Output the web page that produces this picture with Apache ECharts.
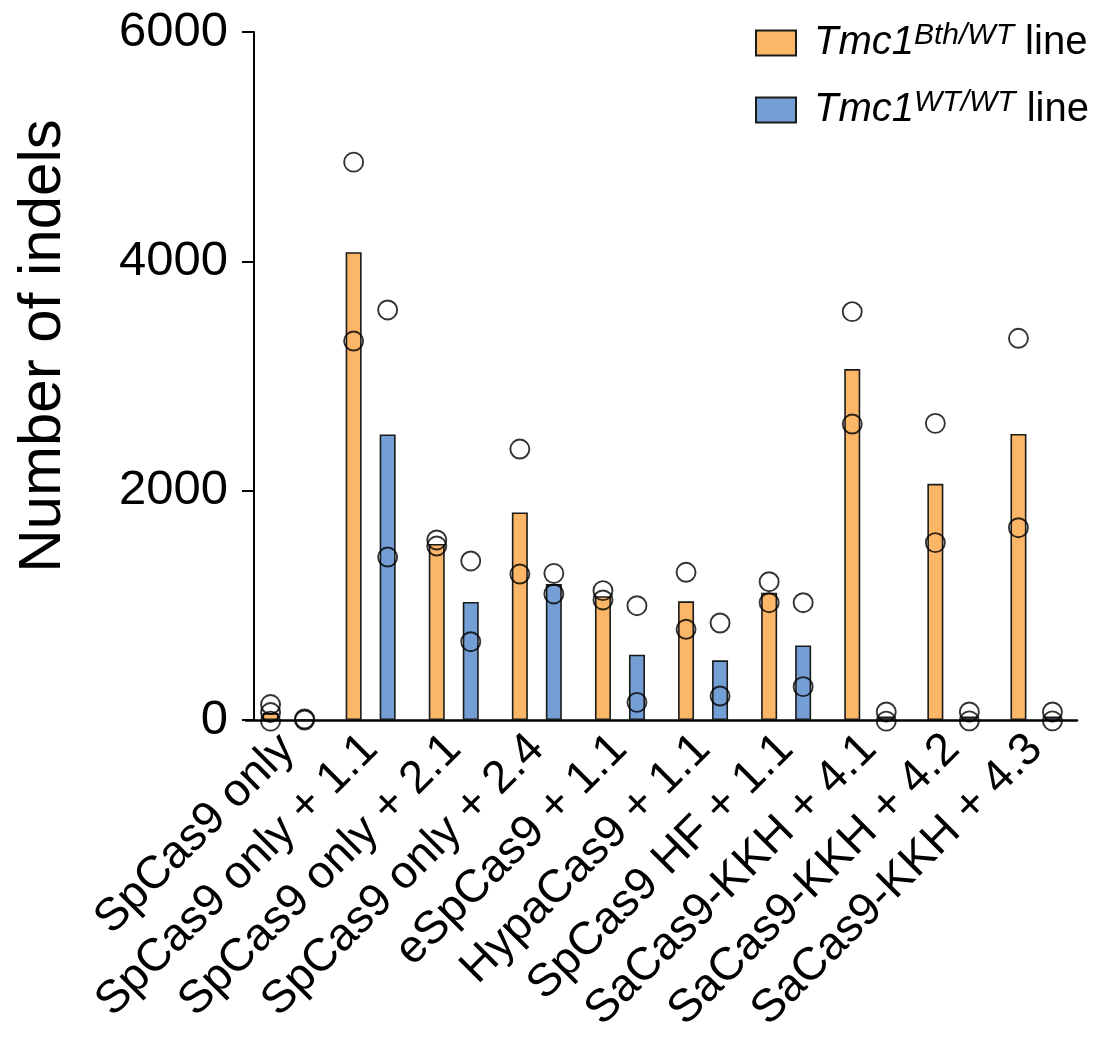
<!DOCTYPE html>
<html>
<head>
<meta charset="utf-8">
<script src="https://cdn.jsdelivr.net/npm/echarts@6/dist/echarts.min.js"></script>
<style>
html,body{margin:0;padding:0;background:#fff;}
#c{width:1103px;height:1053px;}
</style>
</head>
<body>
<div id="c"></div>
<script>
const categories = ['SpCas9 only','SpCas9 only + 1.1','SpCas9 only + 2.1','SpCas9 only + 2.4','eSpCas9 + 1.1','HypaCas9 + 1.1','SpCas9 HF + 1.1','SaCas9-KKH + 4.1','SaCas9-KKH + 4.2','SaCas9-KKH + 4.3'];
const bthMean = [60, 4080, 1535, 1810, 1080, 1035, 1110, 3060, 2060, 2495];
const wtMean = [5, 2490, 1030, 1185, 570, 520, 650, 30, 30, 30];
const bthDots = [[135, 65, -10],[4865, 3305],[1570, 1517],[2363, 1273],[1128, 1047],[1288, 791],[1206, 1023],[3561, 2581],[2587, 1547],[3329, 1677]];
const wtDots = [[10, 0],[3576, 1421],[1387, 683],[1279, 1099],[997, 154],[846, 209],[1023, 291],[70, -10],[70, -8],[70, -8]];
const yTicks = [0, 2000, 4000, 6000];

const FONT = "'Liberation Sans', Arial, sans-serif";
const ORANGE = '#FBB667';
const BLUE = '#739FD4';

function toPoints(dots){
  const pts = [];
  dots.forEach((arr, i) => arr.forEach(v => pts.push([i, v])));
  return pts;
}

const chart = echarts.init(document.getElementById('c'), null, {renderer:'canvas'});
const legendFmt = name => name === 'bth'
  ? '{i|Tmc1}{s|Bth/WT}{n| line}'
  : '{i|Tmc1}{s|WT/WT}{n| line}';

chart.setOption({
  animation: false,
  backgroundColor: '#fff',
  grid: {left: 246, right: 26, top: 32, bottom: 333, containLabel: false},
  legend: {
    orient: 'vertical', left: 755, top: 21, padding: 0, itemGap: 25,
    itemWidth: 40, itemHeight: 25, icon: 'rect',
    data: ['bth', 'wt'],
    formatter: legendFmt,
    textStyle: {
      color: '#000', fontFamily: FONT,
      rich: {
        i: {fontSize: 40, fontStyle: 'italic', fontFamily: FONT, color: '#000', lineHeight: 44, padding: [0,0,0,13]},
        s: {fontSize: 30, fontStyle: 'italic', fontFamily: FONT, color: '#000', lineHeight: 28, verticalAlign: 'top'},
        n: {fontSize: 40, fontFamily: FONT, color: '#000', lineHeight: 44}
      }
    }
  },
  xAxis: {
    type: 'category', data: categories,
    axisLine: {lineStyle: {color: '#000', width: 2.5}},
    axisTick: {alignWithLabel: true, length: 10, lineStyle: {color: '#000', width: 2}},
    axisLabel: {interval: 0, rotate: 45, fontSize: 46, color: '#000', fontFamily: FONT, margin: 22}
  },
  yAxis: {
    type: 'value', min: 0, max: 6000, interval: 2000, offset: -8,
    axisLine: {show: true, lineStyle: {color: '#000', width: 2}},
    axisTick: {show: true, length: 12, lineStyle: {color: '#000', width: 2}},
    splitLine: {show: false},
    axisLabel: {fontSize: 49, color: '#000', fontFamily: FONT, margin: 26,
      formatter: v => yTicks.includes(v) ? String(v) : ''}
  },
  graphic: [{
    type: 'text', x: 43, y: 346, rotation: Math.PI / 2,
    style: {text: 'Number of indels', font: "60px " + FONT, fill: '#000', align: 'center', verticalAlign: 'middle'}
  }],
  series: [
    {name: 'bth', type: 'bar', data: bthMean, barWidth: 16, barGap: '112.5%',
      itemStyle: {color: ORANGE, borderColor: '#1a1a1a', borderWidth: 1.6}},
    {name: 'wt', type: 'bar', data: wtMean, barWidth: 16,
      itemStyle: {color: BLUE, borderColor: '#1a1a1a', borderWidth: 1.6}},
    {name: 'bthDots', type: 'scatter', data: toPoints(bthDots), symbol: 'circle', symbolSize: 19,
      symbolOffset: [-17, 0], clip: false, z: 5,
      itemStyle: {color: 'rgba(0,0,0,0)', borderColor: '#000', borderWidth: 1.9}},
    {name: 'wtDots', type: 'scatter', data: toPoints(wtDots), symbol: 'circle', symbolSize: 19,
      symbolOffset: [17, 0], clip: false, z: 5,
      itemStyle: {color: 'rgba(0,0,0,0)', borderColor: '#000', borderWidth: 1.9}}
  ]
});
</script>
</body>
</html>
